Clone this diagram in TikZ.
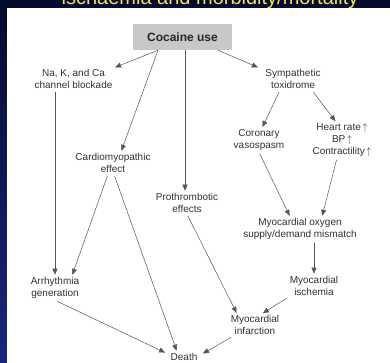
\documentclass[tikz,border=0pt]{standalone}
\usepackage{fontspec}
\setmainfont{Liberation Sans}
\usetikzlibrary{arrows.meta}
\definecolor{bgtop}{RGB}{5,10,45}
\definecolor{bgbot}{RGB}{25,38,125}
\definecolor{titleyellow}{RGB}{240,226,90}
\definecolor{boxgray}{RGB}{200,200,200}
\definecolor{txtgray}{RGB}{50,50,50}
\definecolor{linegray}{RGB}{85,85,85}
\newcommand{\upar}{\,$\uparrow$}

\begin{document}
\begin{tikzpicture}[x=1pt, y=-1pt,
    >={Triangle[length=6pt,width=5pt]},
    flow/.style={->, draw=linegray, line width=0.5pt, shorten >=1pt, shorten <=2pt},
    lbl/.style={align=center, text=txtgray, inner sep=1.5pt,
        font=\fontsize{10}{11.8}\selectfont},
    topbox/.style={fill=boxgray, minimum width=99pt, minimum height=26pt,
        inner sep=0pt, text=black!85, font=\fontsize{12}{14}\selectfont\bfseries}]

% --- slide background, cut-off title, white panel ------------------
\useasboundingbox (0,0) rectangle (390,363);
\fill[top color=bgtop, bottom color=bgbot] (0,0) rectangle (390,363);
\node[anchor=base, inner sep=0pt, text=titleyellow,
      font=\fontsize{20}{24}\selectfont] (title) at (210,5)
      {ischaemia and morbidity/mortality};
\fill[white] (7,8) rectangle (390,363);

% --- nodes ----------------------------------------------------------
\node[topbox] (coc) at (182.5,37) {Cocaine use};

\node[lbl] (ion) at (73.5,79)  {Na, K, and Ca\\channel blockade};
\node[lbl] (sym) at (293,79)   {Sympathetic\\toxidrome};
\node[lbl] (cor) at (259,140)  {Coronary\\vasospasm};
\node[lbl] (hrt) at (342,140)  {Heart rate\upar\\BP\upar\\Contractility\upar};
\node[lbl] (cmp) at (113,163)  {Cardiomyopathic\\effect};
\node[lbl] (pro) at (187,203)  {Prothrombotic\\effects};
\node[lbl] (mis) at (300,229)  {Myocardial oxygen\\supply/demand mismatch};
\node[lbl] (arr) at (55,288)   {Arrhythmia\\generation};
\node[lbl] (isc) at (314,286)  {Myocardial\\ischemia};
\node[lbl] (inf) at (255,325)  {Myocardial\\infarction};
\node[lbl] (dth) at (184,357)  {Death};

% --- from cocaine use -----------------------------------------------
\draw[flow, shorten <=0pt] ([xshift=-24.5]coc.south) -- (ion.north east);
\draw[flow, shorten <=0pt] ([xshift=-24.5]coc.south) -- ([xshift=8]cmp.north);
\draw[flow, shorten <=0pt] ([xshift=2.5]coc.south)   -- ([xshift=-2]pro.north);
\draw[flow, shorten <=0pt] ([xshift=35.5]coc.south)  -- ([xshift=-5]sym.north west);

% --- sympathetic branch ---------------------------------------------
\draw[flow] ([xshift=-13]sym.south) -- ([xshift=3]cor.north);
\draw[flow] ([xshift=19]sym.south)  -- ([xshift=-6]hrt.north);
\draw[flow] (cor.south)             -- ([xshift=-10]mis.north);
\draw[flow] ([xshift=-5]hrt.south)  -- ([xshift=22]mis.north);
\draw[flow] (mis.south -| isc.north) -- (isc.north);
\draw[flow] (isc.south west)        -- ([xshift=7]inf.north);
\draw[flow] (pro.south)             -- ([xshift=-18]inf.north);

% --- towards death --------------------------------------------------
\draw[flow] (ion.south -| arr.north) -- (arr.north);
\draw[flow] ([xshift=-5]cmp.south)  -- ([xshift=17]arr.north);
\draw[flow] ([xshift=1]cmp.south)   -- ([xshift=-7]dth.north);
\draw[flow] (arr.south)             -- ([xshift=-3,yshift=4]dth.west);
\draw[flow] ([xshift=-22]inf.south) -- ([xshift=3,yshift=3]dth.east);

\end{tikzpicture}
\end{document}
